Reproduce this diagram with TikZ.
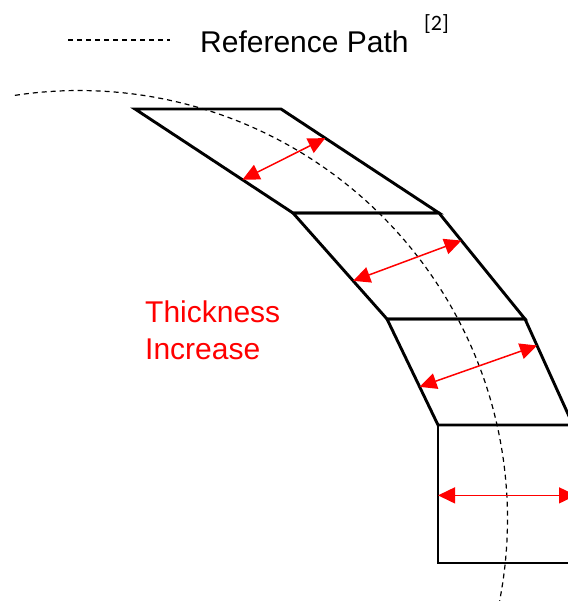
\documentclass[tikz,border=0pt]{standalone}
\usepackage{fontspec}
\setmainfont{Liberation Sans}
\newfontfamily\citefont{Carlito}
\usetikzlibrary{arrows.meta,calc}

\begin{document}
\begin{tikzpicture}[x=1pt,y=-1pt,
    wall/.style={line width=2.9pt,line join=miter},
    gauge/.style={red,line width=1.5pt,{Triangle[length=17pt,width=16pt]}-{Triangle[length=17pt,width=16pt]}},
    refpath/.style={line width=1.2pt,dash pattern=on 5pt off 4pt}]
    \useasboundingbox (0,0) rectangle (568,603);
    \clip (0,0) rectangle (568,603);

    % legend
    \draw[refpath] (68,40) -- (170,40);
    \node[anchor=base west,inner sep=0,font=\fontsize{30}{36}\selectfont] (legend) at (200,52) {Reference Path};
    \node[anchor=base west,inner sep=0,font=\citefont\fontsize{22}{26}\selectfont] (cite) at (424,30) {[2]};

    % segment corners
    \coordinate (a1) at (135,109);
    \coordinate (b1) at (281,109);
    \coordinate (a2) at (293,213);
    \coordinate (b2) at (439,213);
    \coordinate (a3) at (387,319);
    \coordinate (b3) at (525,319);
    \coordinate (a4) at (438,425);
    \coordinate (b4) at (573,425);
    \coordinate (c4) at (576,425);
    \coordinate (a5) at (438,563);
    \coordinate (c5) at (576,563);

    \draw[wall] (a1) -- (b1) -- (b2) -- (a2) -- cycle;
    \draw[wall] (a2) -- (b2) -- (b3) -- (a3) -- cycle;
    \draw[wall] (a3) -- (b3) -- (b4) -- (a4) -- cycle;
    \draw[wall] (a4) -- (c4) -- (c5) -- (a5) -- cycle;

    % reference path
    \draw[refpath] (79,519) ++(-98.6:428.5) arc[start angle=-98.6,end angle=11,radius=428.5];

    % thickness gauges
    \draw[gauge] ($(a1)!0.68!(a2)$) -- ($(b1)!0.28!(b2)$);
    \draw[gauge] ($(a2)!0.64!(a3)$) -- ($(b2)!0.26!(b3)$);
    \draw[gauge] ($(a3)!0.64!(a4)$) -- ($(b3)!0.25!(b4)$);
    \draw[gauge] ($(a4)!0.51!(a5)$) -- ($(c4)!0.51!(c5)$);

    \node[anchor=north west,inner sep=0,align=left,text=red,font=\fontsize{30}{37}\selectfont] (label) at (145,300.5) {Thickness\\Increase};
\end{tikzpicture}
\end{document}
